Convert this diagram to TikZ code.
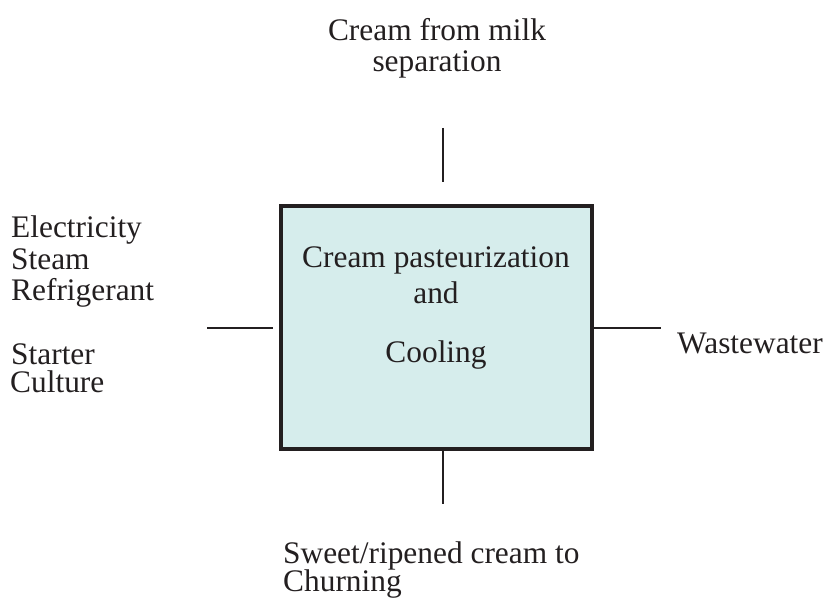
\documentclass[tikz,border=0pt]{standalone}
\usepackage{fontspec}
\setmainfont{Liberation Serif}
\definecolor{boxfill}{HTML}{D6EDEC}
\definecolor{ink}{HTML}{231F20}
\begin{document}
\begin{tikzpicture}[x=1bp,y=-1bp,
  lbl/.style={inner sep=0pt,text=ink,font=\fontsize{31.5}{36}\selectfont},
  link/.style={draw=ink,line width=2.9bp},
  process/.style={draw=ink,line width=3.1bp,fill=boxfill}]
\useasboundingbox (0,0) rectangle (824,599);

% process box
\path[process] (281,206) rectangle (592,449);
\node[lbl,anchor=base] (p1) at (436,267) {Cream pasteurization};
\node[lbl,anchor=base] (p2) at (436,303) {and};
\node[lbl,anchor=base] (p3) at (436,362) {Cooling};

% stubs on each side of the box
\coordinate (tA) at (443,128); \coordinate (tB) at (443,182);
\coordinate (bA) at (443,449); \coordinate (bB) at (443,504);
\coordinate (lA) at (207,328); \coordinate (lB) at (273,328);
\coordinate (rA) at (592,328); \coordinate (rB) at (661,328);
\draw[link] (tA) -- (tB);
\draw[link] (bA) -- (bB);
\draw[link] (lA) -- (lB);
\draw[link] (rA) -- (rB);

% input from above
\node[lbl,anchor=base] (in1) at (437,41) {Cream from milk};
\node[lbl,anchor=base] (in2) at (437,72) {separation};

% utilities on the left
\node[lbl,anchor=base west] (u1) at (11,238) {Electricity};
\node[lbl,anchor=base west] (u2) at (11,269) {Steam};
\node[lbl,anchor=base west] (u3) at (11,300) {Refrigerant};
\node[lbl,anchor=base west] (u4) at (11,364) {Starter};
\node[lbl,anchor=base west] (u5) at (10,392) {Culture};

% waste on the right
\node[lbl,anchor=base west] (w1) at (677,353) {Wastewater};

% product below
\node[lbl,anchor=base west] (o1) at (283,563) {Sweet/ripened cream to};
\node[lbl,anchor=base west] (o2) at (283,591) {Churning};
\end{tikzpicture}
\end{document}
